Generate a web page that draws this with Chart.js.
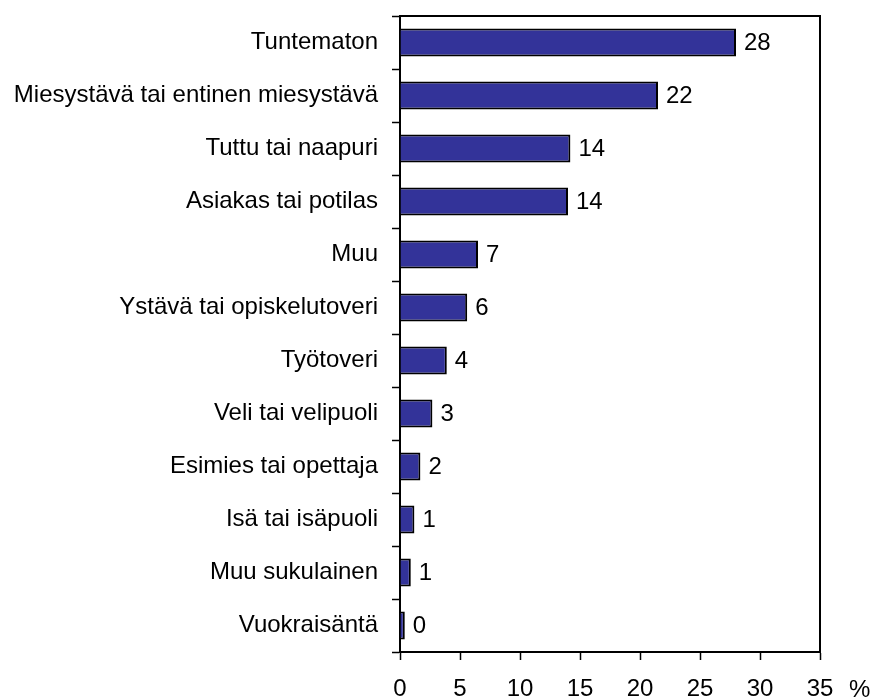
<!DOCTYPE html>
<html>
<head>
<meta charset="utf-8">
<script src="https://cdn.jsdelivr.net/npm/chart.js@4.4.0/dist/chart.umd.min.js"></script>
<style>
  html, body { margin: 0; padding: 0; background: #fff; }
  #wrap { width: 872px; height: 698px; }
</style>
</head>
<body>
<div id="wrap"><canvas id="grafico"></canvas></div>
<script>
// datos
const categorias = [
    'Tuntematon',
    'Miesystävä tai entinen miesystävä',
    'Tuttu tai naapuri',
    'Asiakas tai potilas',
    'Muu',
    'Ystävä tai opiskelutoveri',
    'Työtoveri',
    'Veli tai velipuoli',
    'Esimies tai opettaja',
    'Isä tai isäpuoli',
    'Muu sukulainen',
    'Vuokraisäntä'
];
const valores = [28.0, 21.5, 14.2, 14.0, 6.5, 5.6, 3.9, 2.7, 1.7, 1.2, 0.9, 0.4];
const etiquetas = ['28', '22', '14', '14', '7', '6', '4', '3', '2', '1', '1', '0'];
const ticksX = [0, 5, 10, 15, 20, 25, 30, 35];
const unidad = '%';

const fuente = "'Liberation Sans', Arial, sans-serif";

// etiquetas de valor, marco y signo %
const extras = {
    id: 'extras',
    afterDatasetsDraw(chart) {
        const ctx = chart.ctx;
        const area = chart.chartArea;
        const meta = chart.getDatasetMeta(0);
        ctx.save();
        ctx.font = '24px ' + fuente;
        ctx.fillStyle = '#000';
        ctx.textAlign = 'left';
        ctx.textBaseline = 'middle';
        meta.data.forEach((bar, i) => {
            ctx.fillText(etiquetas[i], bar.x + 8, bar.y + 1);
        });
        // marco
        ctx.strokeStyle = '#000';
        ctx.lineWidth = 2;
        ctx.beginPath();
        ctx.moveTo(area.left, area.top);
        ctx.lineTo(area.right, area.top);
        ctx.lineTo(area.right, area.bottom);
        ctx.stroke();
        // unidad
        ctx.fillText(unidad, area.right + 29, 690);
        ctx.restore();
    }
};

const ctxGrafico = document.getElementById('grafico');

let grafico = new Chart(ctxGrafico, {
    type: 'bar',
    data: {
        labels: categorias,
        datasets: [{
            data: valores,
            backgroundColor: '#333399',
            borderColor: '#000',
            borderWidth: 2,
            categoryPercentage: 0.53,
            barPercentage: 1
        }]
    },
    options: {
        indexAxis: 'y',
        responsive: true,
        maintainAspectRatio: false,
        animation: false,
        layout: { padding: { top: 16, right: 52, left: 0, bottom: 0 } },
        plugins: { legend: { display: false }, tooltip: { enabled: false } },
        scales: {
            x: {
                min: 0,
                max: 35,
                afterBuildTicks(scale) {
                    scale.ticks = ticksX.map(v => ({ value: v }));
                },
                afterFit(scale) {
                    scale.height = 46;
                    scale.paddingLeft = 0;
                    scale.paddingRight = 0;
                },
                grid: {
                    drawOnChartArea: false,
                    drawTicks: true,
                    tickLength: 8,
                    color: '#000',
                    tickWidth: 1.5
                },
                border: { color: '#000', width: 2 },
                ticks: {
                    color: '#000',
                    font: { size: 24, family: fuente },
                    padding: 15,
                    maxRotation: 0
                }
            },
            y: {
                afterFit(scale) {
                    scale.width = 400;
                    scale.paddingTop = 0;
                    scale.paddingBottom = 0;
                },
                grid: {
                    offset: true,
                    drawOnChartArea: false,
                    drawTicks: true,
                    tickLength: 8,
                    color: '#000',
                    tickWidth: 1.5
                },
                border: { color: '#000', width: 2 },
                ticks: {
                    color: '#000',
                    font: { size: 24, family: fuente },
                    padding: 14,
                    autoSkip: false
                }
            }
        }
    },
    plugins: [extras]
});
</script>
</body>
</html>
